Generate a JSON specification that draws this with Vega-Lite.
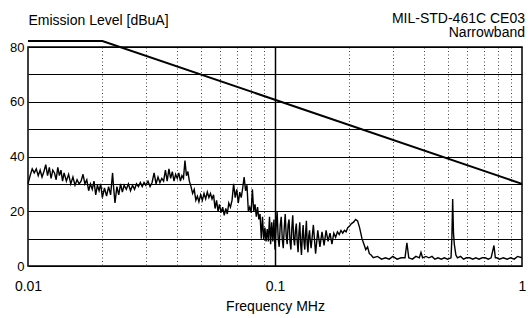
{
  "$schema": "https://vega.github.io/schema/vega-lite/v6.json",
  "width": 494,
  "height": 219,
  "autosize": {"type": "none"},
  "padding": {"left": 28, "top": 47, "right": 6, "bottom": 52},
  "background": "white",
  "config": {
    "font": "Liberation Sans",
    "view": {"stroke": "black", "strokeWidth": 1.5}
  },
  "title": {
    "text": ["MIL-STD-461C CE03", "Narrowband"],
    "anchor": "end",
    "frame": "group",
    "orient": "top",
    "fontSize": 14,
    "fontWeight": "normal",
    "color": "black",
    "baseline": "bottom",
    "lineHeight": 14.5,
    "offset": 8,
    "dx": 3,
    "dy": 49
  },
  "datasets": {
    "emission": [
      {"freq": 0.0100, "level": 30}, {"freq": 0.0102, "level": 33}, {"freq": 0.0104, "level": 35.5}, {"freq": 0.0106, "level": 34},
      {"freq": 0.0108, "level": 35.5}, {"freq": 0.0110, "level": 33}, {"freq": 0.0112, "level": 35}, {"freq": 0.0114, "level": 32.5},
      {"freq": 0.0116, "level": 34.5}, {"freq": 0.0118, "level": 37}, {"freq": 0.0120, "level": 33}, {"freq": 0.0122, "level": 36},
      {"freq": 0.0124, "level": 32}, {"freq": 0.0126, "level": 35}, {"freq": 0.0128, "level": 34}, {"freq": 0.0130, "level": 31.5},
      {"freq": 0.0132, "level": 36}, {"freq": 0.0134, "level": 33}, {"freq": 0.0136, "level": 35}, {"freq": 0.0138, "level": 31},
      {"freq": 0.0140, "level": 34}, {"freq": 0.0143, "level": 31}, {"freq": 0.0146, "level": 33.5}, {"freq": 0.0149, "level": 30},
      {"freq": 0.0152, "level": 32.5}, {"freq": 0.0155, "level": 29.5}, {"freq": 0.0158, "level": 31.5}, {"freq": 0.0161, "level": 30},
      {"freq": 0.0164, "level": 31}, {"freq": 0.0167, "level": 33.5}, {"freq": 0.0170, "level": 30}, {"freq": 0.0173, "level": 31.5},
      {"freq": 0.0176, "level": 27.5}, {"freq": 0.0179, "level": 30}, {"freq": 0.0182, "level": 28}, {"freq": 0.0185, "level": 31},
      {"freq": 0.0188, "level": 26}, {"freq": 0.0191, "level": 29.5}, {"freq": 0.0194, "level": 27.5}, {"freq": 0.0197, "level": 30},
      {"freq": 0.0200, "level": 25}, {"freq": 0.0204, "level": 28.5}, {"freq": 0.0208, "level": 25.5}, {"freq": 0.0212, "level": 29},
      {"freq": 0.0216, "level": 26}, {"freq": 0.0220, "level": 34}, {"freq": 0.0222, "level": 29}, {"freq": 0.0225, "level": 23},
      {"freq": 0.0229, "level": 29}, {"freq": 0.0233, "level": 26}, {"freq": 0.0237, "level": 30}, {"freq": 0.0241, "level": 27},
      {"freq": 0.0245, "level": 29.5}, {"freq": 0.0250, "level": 28}, {"freq": 0.0255, "level": 30}, {"freq": 0.0260, "level": 27.5},
      {"freq": 0.0265, "level": 29.5}, {"freq": 0.0270, "level": 28}, {"freq": 0.0275, "level": 30}, {"freq": 0.0280, "level": 29},
      {"freq": 0.0285, "level": 30.5}, {"freq": 0.0290, "level": 29}, {"freq": 0.0295, "level": 30.5}, {"freq": 0.0300, "level": 29.5},
      {"freq": 0.0306, "level": 31}, {"freq": 0.0312, "level": 29}, {"freq": 0.0318, "level": 30.5}, {"freq": 0.0324, "level": 34},
      {"freq": 0.0330, "level": 30}, {"freq": 0.0336, "level": 32.5}, {"freq": 0.0342, "level": 30.5}, {"freq": 0.0348, "level": 32},
      {"freq": 0.0354, "level": 31}, {"freq": 0.0360, "level": 35}, {"freq": 0.0366, "level": 31}, {"freq": 0.0372, "level": 35.5},
      {"freq": 0.0378, "level": 32}, {"freq": 0.0384, "level": 34.5}, {"freq": 0.0390, "level": 31}, {"freq": 0.0396, "level": 33.5},
      {"freq": 0.0402, "level": 32}, {"freq": 0.0408, "level": 34}, {"freq": 0.0414, "level": 31}, {"freq": 0.0420, "level": 33},
      {"freq": 0.0426, "level": 32}, {"freq": 0.0432, "level": 38.5}, {"freq": 0.0438, "level": 33}, {"freq": 0.0444, "level": 34.5},
      {"freq": 0.0450, "level": 31}, {"freq": 0.0457, "level": 29}, {"freq": 0.0464, "level": 26.5}, {"freq": 0.0471, "level": 28},
      {"freq": 0.0478, "level": 24}, {"freq": 0.0485, "level": 25.5}, {"freq": 0.0492, "level": 23.5}, {"freq": 0.0500, "level": 26},
      {"freq": 0.0508, "level": 24}, {"freq": 0.0516, "level": 26.5}, {"freq": 0.0524, "level": 24.5}, {"freq": 0.0532, "level": 27},
      {"freq": 0.0540, "level": 25}, {"freq": 0.0548, "level": 26.5}, {"freq": 0.0556, "level": 24.5}, {"freq": 0.0564, "level": 26},
      {"freq": 0.0572, "level": 21}, {"freq": 0.0580, "level": 24}, {"freq": 0.0588, "level": 20}, {"freq": 0.0596, "level": 22.5},
      {"freq": 0.0605, "level": 19.5}, {"freq": 0.0614, "level": 21.5}, {"freq": 0.0623, "level": 18.5}, {"freq": 0.0632, "level": 21},
      {"freq": 0.0641, "level": 19}, {"freq": 0.0650, "level": 23}, {"freq": 0.0660, "level": 21.5}, {"freq": 0.0670, "level": 24},
      {"freq": 0.0680, "level": 30}, {"freq": 0.0690, "level": 25}, {"freq": 0.0700, "level": 28}, {"freq": 0.0710, "level": 23},
      {"freq": 0.0720, "level": 27}, {"freq": 0.0730, "level": 25}, {"freq": 0.0740, "level": 28.5}, {"freq": 0.0750, "level": 32.5},
      {"freq": 0.0760, "level": 27.5}, {"freq": 0.0770, "level": 29.5}, {"freq": 0.0780, "level": 20}, {"freq": 0.0790, "level": 21.5},
      {"freq": 0.0800, "level": 19.5}, {"freq": 0.0810, "level": 28}, {"freq": 0.0820, "level": 20}, {"freq": 0.0830, "level": 22.5},
      {"freq": 0.0840, "level": 18}, {"freq": 0.0850, "level": 21.5}, {"freq": 0.0860, "level": 17}, {"freq": 0.0870, "level": 19},
      {"freq": 0.0880, "level": 10}, {"freq": 0.0890, "level": 18}, {"freq": 0.0900, "level": 9.5}, {"freq": 0.0910, "level": 14},
      {"freq": 0.0920, "level": 9}, {"freq": 0.0930, "level": 13.5}, {"freq": 0.0940, "level": 9}, {"freq": 0.0950, "level": 18},
      {"freq": 0.0960, "level": 8}, {"freq": 0.0970, "level": 16}, {"freq": 0.0980, "level": 9}, {"freq": 0.0990, "level": 17},
      {"freq": 0.1000, "level": 6}, {"freq": 0.101, "level": 14}, {"freq": 0.102, "level": 20}, {"freq": 0.103, "level": 10},
      {"freq": 0.104, "level": 7}, {"freq": 0.105, "level": 15}, {"freq": 0.106, "level": 18}, {"freq": 0.107, "level": 10},
      {"freq": 0.108, "level": 6.5}, {"freq": 0.109, "level": 14}, {"freq": 0.110, "level": 19}, {"freq": 0.111, "level": 11},
      {"freq": 0.112, "level": 8}, {"freq": 0.113, "level": 15}, {"freq": 0.114, "level": 17}, {"freq": 0.115, "level": 9},
      {"freq": 0.116, "level": 6}, {"freq": 0.117, "level": 14}, {"freq": 0.118, "level": 18.5}, {"freq": 0.119, "level": 10},
      {"freq": 0.120, "level": 7.5}, {"freq": 0.121, "level": 13}, {"freq": 0.122, "level": 15.5}, {"freq": 0.123, "level": 9},
      {"freq": 0.124, "level": 5}, {"freq": 0.125, "level": 12}, {"freq": 0.126, "level": 16}, {"freq": 0.127, "level": 8},
      {"freq": 0.128, "level": 4}, {"freq": 0.129, "level": 11}, {"freq": 0.130, "level": 15}, {"freq": 0.131, "level": 9},
      {"freq": 0.132, "level": 6}, {"freq": 0.133, "level": 12}, {"freq": 0.134, "level": 16.5}, {"freq": 0.135, "level": 8},
      {"freq": 0.136, "level": 5}, {"freq": 0.137, "level": 11}, {"freq": 0.138, "level": 13}, {"freq": 0.139, "level": 9},
      {"freq": 0.140, "level": 6.5}, {"freq": 0.143, "level": 15}, {"freq": 0.146, "level": 4.5}, {"freq": 0.149, "level": 13},
      {"freq": 0.152, "level": 7}, {"freq": 0.155, "level": 12.5}, {"freq": 0.158, "level": 7.5}, {"freq": 0.161, "level": 13},
      {"freq": 0.164, "level": 9}, {"freq": 0.167, "level": 12}, {"freq": 0.170, "level": 8}, {"freq": 0.173, "level": 12},
      {"freq": 0.176, "level": 10.5}, {"freq": 0.179, "level": 12.5}, {"freq": 0.182, "level": 11.5}, {"freq": 0.185, "level": 13},
      {"freq": 0.188, "level": 12}, {"freq": 0.191, "level": 13}, {"freq": 0.194, "level": 12.5}, {"freq": 0.197, "level": 14},
      {"freq": 0.200, "level": 14.5}, {"freq": 0.204, "level": 15.5}, {"freq": 0.208, "level": 16}, {"freq": 0.212, "level": 17},
      {"freq": 0.216, "level": 16.5}, {"freq": 0.220, "level": 14}, {"freq": 0.225, "level": 10}, {"freq": 0.229, "level": 8},
      {"freq": 0.233, "level": 6}, {"freq": 0.237, "level": 7}, {"freq": 0.241, "level": 4.5}, {"freq": 0.245, "level": 4},
      {"freq": 0.250, "level": 3}, {"freq": 0.260, "level": 3.5}, {"freq": 0.270, "level": 2.5}, {"freq": 0.280, "level": 3},
      {"freq": 0.290, "level": 2.5}, {"freq": 0.300, "level": 3.5}, {"freq": 0.312, "level": 2.5}, {"freq": 0.324, "level": 3},
      {"freq": 0.336, "level": 3}, {"freq": 0.342, "level": 8.5}, {"freq": 0.348, "level": 3}, {"freq": 0.360, "level": 2.5},
      {"freq": 0.372, "level": 3.5}, {"freq": 0.384, "level": 3}, {"freq": 0.390, "level": 5}, {"freq": 0.396, "level": 3},
      {"freq": 0.408, "level": 3.5}, {"freq": 0.420, "level": 3}, {"freq": 0.432, "level": 3.5}, {"freq": 0.444, "level": 2.5},
      {"freq": 0.457, "level": 3}, {"freq": 0.471, "level": 2.5}, {"freq": 0.485, "level": 3}, {"freq": 0.500, "level": 2.5},
      {"freq": 0.516, "level": 3}, {"freq": 0.520, "level": 10}, {"freq": 0.524, "level": 24.5}, {"freq": 0.528, "level": 12},
      {"freq": 0.532, "level": 8}, {"freq": 0.540, "level": 4}, {"freq": 0.548, "level": 3}, {"freq": 0.564, "level": 3.5},
      {"freq": 0.580, "level": 2.5}, {"freq": 0.596, "level": 3}, {"freq": 0.614, "level": 3}, {"freq": 0.632, "level": 2.5},
      {"freq": 0.650, "level": 3}, {"freq": 0.670, "level": 2.5}, {"freq": 0.690, "level": 3}, {"freq": 0.710, "level": 3},
      {"freq": 0.730, "level": 2.5}, {"freq": 0.750, "level": 3}, {"freq": 0.770, "level": 7.5}, {"freq": 0.780, "level": 3},
      {"freq": 0.790, "level": 3}, {"freq": 0.810, "level": 2.5}, {"freq": 0.840, "level": 3}, {"freq": 0.870, "level": 2.5},
      {"freq": 0.900, "level": 3}, {"freq": 0.930, "level": 2.5}, {"freq": 0.960, "level": 3.5}, {"freq": 1.000, "level": 3}
    ],
    "limit": [
      {"freq": 0.01, "level": 82.2},
      {"freq": 0.02, "level": 82.2},
      {"freq": 1, "level": 30}
    ]
  },
  "encoding": {
    "x": {
      "field": "freq",
      "type": "quantitative",
      "scale": {"type": "log", "domain": [0.01, 1], "nice": false},
      "axis": {
        "title": "Frequency MHz",
        "titleFontSize": 14,
        "titleFontWeight": "normal",
        "titleColor": "black",
        "titlePadding": 6,
        "values": [0.01, 0.02, 0.03, 0.04, 0.05, 0.06, 0.07, 0.08, 0.09, 0.1, 0.2, 0.3, 0.4, 0.5, 0.6, 0.7, 0.8, 0.9, 1],
        "labelExpr": "datum.value == 0.01 ? '0.01' : (datum.value == 0.1 ? '0.1' : (datum.value == 1 ? '1' : ''))",
        "labelFontSize": 14,
        "labelColor": "black",
        "labelPadding": 13,
        "labelOverlap": false,
        "labelBound": false,
        "labelFlush": false,
        "ticks": false,
        "tickSize": 0,
        "domain": false,
        "grid": true,
        "gridColor": {"condition": {"test": "datum.value == 0.1", "value": "black"}, "value": "#444444"},
        "gridWidth": {"condition": {"test": "datum.value == 0.1", "value": 1.5}, "value": 1},
        "gridDash": {"condition": {"test": "datum.value == 0.1", "value": []}, "value": [1, 2.5]},
        "gridOpacity": 1
      }
    },
    "y": {
      "field": "level",
      "type": "quantitative",
      "scale": {"domain": [0, 80], "nice": false},
      "axis": {
        "title": "Emission Level [dBuA]",
        "titleAngle": 0,
        "titleX": 0,
        "titleY": -34,
        "titleAlign": "left",
        "titleBaseline": "top",
        "titleFontSize": 14,
        "titleFontWeight": "normal",
        "titleColor": "black",
        "values": [0, 10, 20, 30, 40, 50, 60, 70, 80],
        "labelExpr": "datum.value % 20 == 0 ? datum.label : ''",
        "labelFontSize": 13,
        "labelColor": "black",
        "labelPadding": 4,
        "ticks": false,
        "tickSize": 0,
        "domain": false,
        "grid": true,
        "gridColor": "black",
        "gridWidth": 1.2,
        "gridOpacity": 1
      }
    }
  },
  "layer": [
    {
      "data": {"name": "emission"},
      "mark": {"type": "line", "color": "black", "strokeWidth": 1.4, "clip": false}
    },
    {
      "data": {"name": "limit"},
      "mark": {"type": "line", "color": "black", "strokeWidth": 2, "clip": false}
    }
  ]
}
